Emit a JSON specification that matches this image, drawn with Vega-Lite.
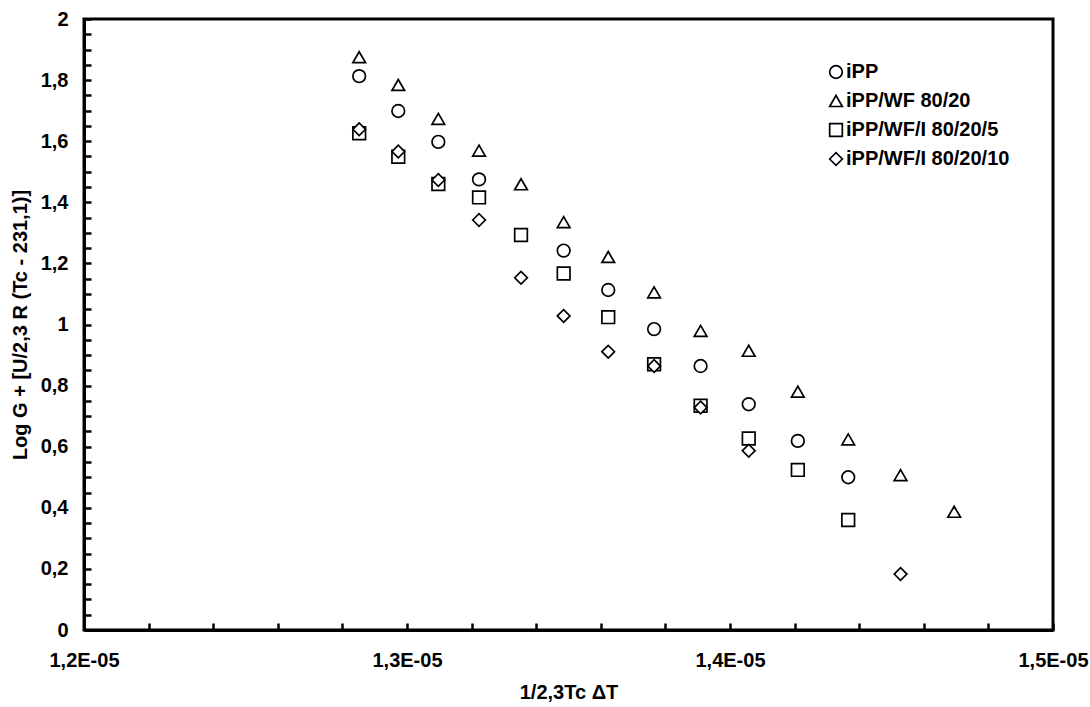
{
  "$schema": "https://vega.github.io/schema/vega-lite/v6.json",
  "autosize": "none",
  "width": 969,
  "height": 611,
  "padding": {"left": 84, "top": 19, "right": 37, "bottom": 77},
  "background": "white",
  "config": {
    "view": {"stroke": "black", "strokeWidth": 3},
    "font": "Liberation Sans"
  },
  "data": {
    "values": [
      {"series": "iPP", "x": 0.000012852, "y": 1.813},
      {"series": "iPP", "x": 0.000012973, "y": 1.699},
      {"series": "iPP", "x": 0.000013097, "y": 1.598},
      {"series": "iPP", "x": 0.000013223, "y": 1.475},
      {"series": "iPP", "x": 0.000013485, "y": 1.242},
      {"series": "iPP", "x": 0.000013623, "y": 1.113},
      {"series": "iPP", "x": 0.000013765, "y": 0.985},
      {"series": "iPP", "x": 0.000013909, "y": 0.864},
      {"series": "iPP", "x": 0.000014058, "y": 0.739},
      {"series": "iPP", "x": 0.00001421, "y": 0.619},
      {"series": "iPP", "x": 0.000014366, "y": 0.5},
      {"series": "iPP/WF 80/20", "x": 0.000012852, "y": 1.875},
      {"series": "iPP/WF 80/20", "x": 0.000012973, "y": 1.784},
      {"series": "iPP/WF 80/20", "x": 0.000013097, "y": 1.673},
      {"series": "iPP/WF 80/20", "x": 0.000013223, "y": 1.569},
      {"series": "iPP/WF 80/20", "x": 0.000013353, "y": 1.459},
      {"series": "iPP/WF 80/20", "x": 0.000013485, "y": 1.335},
      {"series": "iPP/WF 80/20", "x": 0.000013623, "y": 1.221},
      {"series": "iPP/WF 80/20", "x": 0.000013765, "y": 1.105},
      {"series": "iPP/WF 80/20", "x": 0.000013909, "y": 0.979},
      {"series": "iPP/WF 80/20", "x": 0.000014058, "y": 0.914},
      {"series": "iPP/WF 80/20", "x": 0.00001421, "y": 0.78},
      {"series": "iPP/WF 80/20", "x": 0.000014366, "y": 0.624},
      {"series": "iPP/WF 80/20", "x": 0.000014528, "y": 0.507},
      {"series": "iPP/WF 80/20", "x": 0.000014694, "y": 0.387},
      {"series": "iPP/WF/I 80/20/5", "x": 0.000012852, "y": 1.626},
      {"series": "iPP/WF/I 80/20/5", "x": 0.000012973, "y": 1.549},
      {"series": "iPP/WF/I 80/20/5", "x": 0.000013097, "y": 1.46},
      {"series": "iPP/WF/I 80/20/5", "x": 0.000013223, "y": 1.416},
      {"series": "iPP/WF/I 80/20/5", "x": 0.000013353, "y": 1.293},
      {"series": "iPP/WF/I 80/20/5", "x": 0.000013485, "y": 1.167},
      {"series": "iPP/WF/I 80/20/5", "x": 0.000013623, "y": 1.024},
      {"series": "iPP/WF/I 80/20/5", "x": 0.000013765, "y": 0.87},
      {"series": "iPP/WF/I 80/20/5", "x": 0.000013909, "y": 0.734},
      {"series": "iPP/WF/I 80/20/5", "x": 0.000014058, "y": 0.627},
      {"series": "iPP/WF/I 80/20/5", "x": 0.00001421, "y": 0.524},
      {"series": "iPP/WF/I 80/20/5", "x": 0.000014366, "y": 0.36},
      {"series": "iPP/WF/I 80/20/10", "x": 0.000012852, "y": 1.639},
      {"series": "iPP/WF/I 80/20/10", "x": 0.000012973, "y": 1.566},
      {"series": "iPP/WF/I 80/20/10", "x": 0.000013097, "y": 1.473},
      {"series": "iPP/WF/I 80/20/10", "x": 0.000013223, "y": 1.342},
      {"series": "iPP/WF/I 80/20/10", "x": 0.000013353, "y": 1.153},
      {"series": "iPP/WF/I 80/20/10", "x": 0.000013485, "y": 1.028},
      {"series": "iPP/WF/I 80/20/10", "x": 0.000013623, "y": 0.911},
      {"series": "iPP/WF/I 80/20/10", "x": 0.000013765, "y": 0.864},
      {"series": "iPP/WF/I 80/20/10", "x": 0.000013909, "y": 0.728},
      {"series": "iPP/WF/I 80/20/10", "x": 0.000014058, "y": 0.587},
      {"series": "iPP/WF/I 80/20/10", "x": 0.000014528, "y": 0.183}
    ]
  },
  "mark": {"type": "point", "filled": false, "color": "black", "fill": "white", "fillOpacity": 1, "strokeWidth": 1.7, "opacity": 1, "size": 160},
  "encoding": {
    "x": {
      "field": "x",
      "type": "quantitative",
      "scale": {"domain": [0.000012, 0.000015], "nice": false, "zero": false},
      "axis": {
        "title": "1/2,3Tc ΔT",
        "values": [0.000012, 0.0000122, 0.0000124, 0.0000126, 0.0000128, 0.000013, 0.0000132, 0.0000134, 0.0000136, 0.0000138, 0.000014, 0.0000142, 0.0000144, 0.0000146, 0.0000148, 0.000015],
        "labelExpr": "abs(datum.value*1e6 - round(datum.value*1e6)) < 0.001 ? replace(format(datum.value*1e5, '.1f'), '.', ',') + 'E-05' : ''",
        "labelOverlap": false,
        "labelFlush": false,
        "grid": false,
        "domainColor": "black",
        "domainWidth": 3,
        "tickColor": "black",
        "tickWidth": 2.5,
        "tickSize": -7,
        "labelPadding": 37,
        "labelBaseline": "middle",
        "labelFont": "Liberation Sans",
        "labelFontSize": 20,
        "labelFontWeight": "bold",
        "labelColor": "black",
        "titleFont": "Liberation Sans",
        "titleFontSize": 20,
        "titleFontWeight": "bold",
        "titleColor": "black",
        "titleY": 62,
        "titleBaseline": "middle"
      }
    },
    "y": {
      "field": "y",
      "type": "quantitative",
      "scale": {"domain": [0, 2], "nice": false, "zero": true},
      "axis": {
        "title": "Log G + [U/2,3 R (Tc - 231,1)]",
        "values": [0, 0.05, 0.1, 0.15, 0.2, 0.25, 0.3, 0.35, 0.4, 0.45, 0.5, 0.55, 0.6, 0.65, 0.7, 0.75, 0.8, 0.85, 0.9, 0.95, 1, 1.05, 1.1, 1.15, 1.2, 1.25, 1.3, 1.35, 1.4, 1.45, 1.5, 1.55, 1.6, 1.65, 1.7, 1.75, 1.8, 1.85, 1.9, 1.95, 2],
        "labelExpr": "abs(datum.value*5 - round(datum.value*5)) < 0.001 ? replace(format(datum.value, '.1~f'), '.', ',') : ''",
        "labelOverlap": false,
        "labelFlush": false,
        "grid": false,
        "domainColor": "black",
        "domainWidth": 3,
        "tickColor": "black",
        "tickWidth": 2.5,
        "tickSize": -7,
        "labelPadding": 23,
        "labelFont": "Liberation Sans",
        "labelFontSize": 20,
        "labelFontWeight": "bold",
        "labelColor": "black",
        "titleFont": "Liberation Sans",
        "titleFontSize": 20,
        "titleFontWeight": "bold",
        "titleColor": "black",
        "titleX": -64,
        "titleY": 305.5,
        "titleAngle": -90,
        "titleAlign": "center",
        "titleBaseline": "middle"
      }
    },
    "shape": {
      "field": "series",
      "type": "nominal",
      "sort": null,
      "scale": {
        "domain": ["iPP", "iPP/WF 80/20", "iPP/WF/I 80/20/5", "iPP/WF/I 80/20/10"],
        "range": ["circle", "triangle-up", "square", "diamond"]
      },
      "legend": {
        "title": null,
        "orient": "none",
        "legendX": 742,
        "legendY": 43,
        "symbolSize": 160,
        "symbolStrokeWidth": 1.7,
        "labelFont": "Liberation Sans",
        "labelFontSize": 20,
        "labelFontWeight": "bold",
        "labelColor": "black",
        "labelOffset": 0,
        "rowPadding": 9,
        "labelLimit": 400
      }
    }
  }
}
